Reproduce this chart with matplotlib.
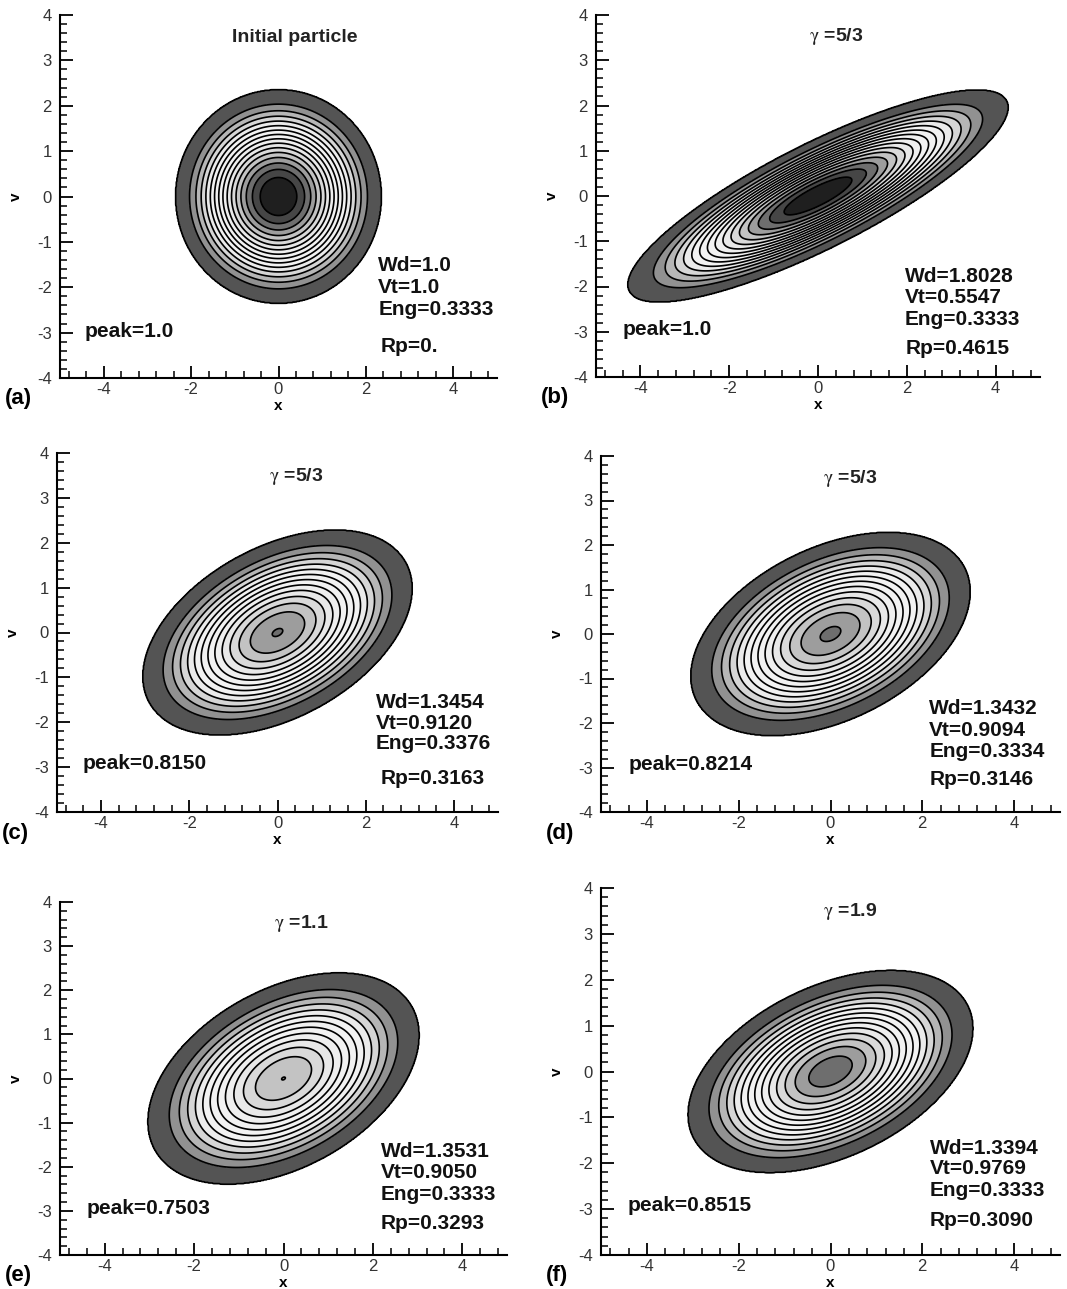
import numpy as np
import matplotlib
matplotlib.use("Agg")
import matplotlib.pyplot as plt
from matplotlib.ticker import MultipleLocator
from matplotlib.colors import LinearSegmentedColormap

plt.rcParams['font.family'] = ['Liberation Sans', 'DejaVu Sans']
plt.rcParams['axes.unicode_minus'] = False
plt.rcParams['mathtext.fontset'] = 'stix'

# panel data
panel_tags = ['(a)', '(b)', '(c)', '(d)', '(e)', '(f)']
titles = ['Initial particle', r'$\mathrm{\gamma}$ =5/3', r'$\mathrm{\gamma}$ =5/3',
          r'$\mathrm{\gamma}$ =5/3', r'$\mathrm{\gamma}$ =1.1', r'$\mathrm{\gamma}$ =1.9']
peaks = [1.0, 1.0, 0.8150, 0.8214, 0.7503, 0.8515]
peak_txt = ['1.0', '1.0', '0.8150', '0.8214', '0.7503', '0.8515']
wd = ['1.0', '1.8028', '1.3454', '1.3432', '1.3531', '1.3394']
vt = ['1.0', '0.5547', '0.9120', '0.9094', '0.9050', '0.9769']
eng = ['0.3333', '0.3333', '0.3376', '0.3334', '0.3333', '0.3333']
rp = ['0.', '0.4615', '0.3163', '0.3146', '0.3293', '0.3090']

# support ellipse: max |x|, max |v|, v at max x
x_extent = [2.35, 4.28, 3.05, 3.04, 3.03, 3.10]
v_extent = [2.35, 2.34, 2.28, 2.28, 2.39, 2.20]
v_at_xmax = [0.0, 1.96, 0.98, 0.95, 0.98, 0.94]

# gray level of each band vs value
cmap_vals = [0.0, 0.03, 0.09, 0.16, 0.22, 0.28, 0.35, 0.5, 0.6, 0.66, 0.72, 0.78, 0.84, 0.9, 0.97, 1.0]
cmap_gray = [0.33, 0.33, 0.56, 0.72, 0.84, 0.92, 0.95, 0.95, 0.91, 0.85, 0.77, 0.63, 0.45, 0.30, 0.12, 0.12]
gray_map = LinearSegmentedColormap.from_list(
    'bandgray', [(v, (g, g, g)) for v, g in zip(cmap_vals, cmap_gray)])

level_step = 0.0625
levels = np.concatenate([[1e-6], np.arange(level_step, 1.0001, level_step)])
band_colors = [gray_map(0.5 * (levels[i] + levels[i + 1])) for i in range(len(levels) - 1)]
band_colors[0] = gray_map(0.03)

# axes boxes in pixels: left, right, top, bottom
boxes = [(60, 497, 15, 378), (596, 1040, 15, 377),
         (57, 498, 453, 812), (601, 1060, 456, 812),
         (60, 507, 902, 1255), (601, 1060, 888, 1255)]

title_pos = [(0.37, 3.5), (0.41, 3.52), (0.42, 3.48), (0.43, 3.5), (0.41, 3.51), (0.43, 3.49)]
peak_pos = [(-4.43, -2.98), (-4.41, -2.96), (-4.41, -2.93), (-4.41, -2.94), (-4.4, -2.94), (-4.43, -2.92)]
stat_x = [2.28, 1.96, 2.23, 2.15, 2.18, 2.17]
wd_y = [-1.51, -1.77, -1.55, -1.67, -1.66, -1.67]
vt_y = [-2.0, -2.25, -2.02, -2.16, -2.14, -2.12]
eng_y = [-2.5, -2.74, -2.48, -2.64, -2.63, -2.6]
rp_pos = [(2.34, -3.31), (1.98, -3.36), (2.34, -3.26), (2.15, -3.28), (2.18, -3.28), (2.17, -3.25)]

W, H = 1067, 1289
fig = plt.figure(figsize=(W / 100, H / 100), dpi=100)

xg = np.linspace(-5, 5, 700)
vg = np.linspace(-4, 4, 560)
X, V = np.meshgrid(xg, vg)

txt_kw = dict(fontsize=15, fontweight='bold', color='#111111', va='center')

for i in range(6):
    l, r, t, b = boxes[i]
    ax = fig.add_axes([l / W, 1 - b / H, (r - l) / W, (b - t) / H])

    sxx = x_extent[i] ** 2
    svv = v_extent[i] ** 2
    sxv = v_at_xmax[i] * x_extent[i]
    det = sxx * svv - sxv ** 2
    q2 = (svv * X ** 2 - 2 * sxv * X * V + sxx * V ** 2) / det
    F = peaks[i] * np.clip(1 - q2, 0, None) ** 2

    ax.contourf(X, V, F, levels=levels, colors=band_colors)
    ax.contour(X, V, F, levels=levels, colors='black', linewidths=1.2)

    ax.set_xlim(-5, 5)
    ax.set_ylim(-4, 4)
    for s in ['top', 'right']:
        ax.spines[s].set_visible(False)
    for s in ['left', 'bottom']:
        ax.spines[s].set_linewidth(1.5)
    ax.xaxis.set_major_locator(MultipleLocator(2))
    ax.xaxis.set_minor_locator(MultipleLocator(0.4))
    ax.yaxis.set_major_locator(MultipleLocator(1))
    ax.yaxis.set_minor_locator(MultipleLocator(0.2))
    ax.tick_params(which='major', direction='in', length=9, width=1.3,
                   labelsize=12, labelcolor='#333333', pad=6)
    ax.tick_params(axis='x', which='major', pad=3)
    ax.tick_params(which='minor', direction='in', length=5, width=1.1)
    ax.set_xlabel('x', fontsize=11, fontweight='bold', labelpad=1)
    ax.set_ylabel('v', fontsize=11, fontweight='bold', labelpad=10)

    ax.text(title_pos[i][0], title_pos[i][1], titles[i], ha='center',
            fontsize=14, fontweight='bold', color='#222222', va='center')
    ax.text(peak_pos[i][0], peak_pos[i][1], f'peak={peak_txt[i]}', ha='left', **txt_kw)
    ax.text(stat_x[i], wd_y[i], f'Wd={wd[i]}', ha='left', **txt_kw)
    ax.text(stat_x[i], vt_y[i], f'Vt={vt[i]}', ha='left', **txt_kw)
    ax.text(stat_x[i], eng_y[i], f'Eng={eng[i]}', ha='left', **txt_kw)
    ax.text(rp_pos[i][0], rp_pos[i][1], f'Rp={rp[i]}', ha='left', **txt_kw)

    fig.text((l - 55) / W, 1 - (b + 21) / H, panel_tags[i], ha='left', va='center',
             fontsize=16, fontweight='bold')

fig.savefig('out.png', dpi=100, facecolor='white')
